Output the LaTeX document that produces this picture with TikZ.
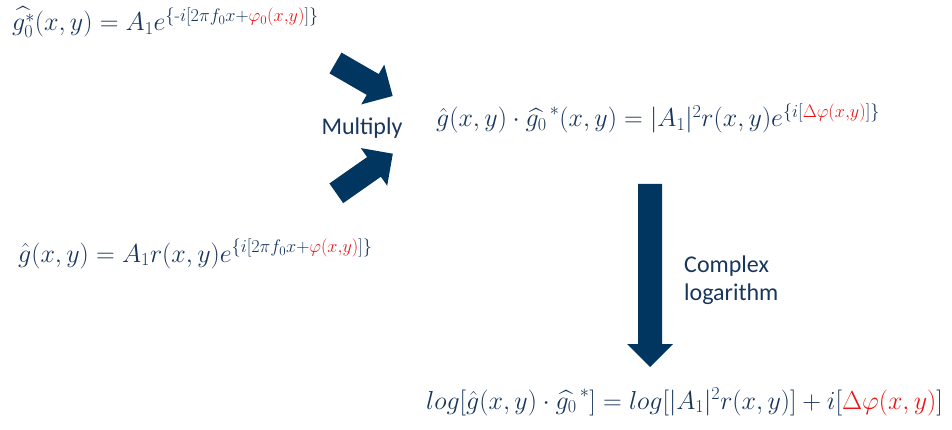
\RequirePackage{fix-cm}
\documentclass[tikz,border=0pt]{standalone}
\usepackage{amsmath}
\usepackage{fontspec}
\setsansfont{Carlito}
\usepackage{tikz}
\usetikzlibrary{positioning}

\definecolor{eqnavy}{RGB}{24,54,92}
\definecolor{arrownavy}{RGB}{0,54,96}
\definecolor{phasered}{RGB}{235,20,20}

\begin{document}
\begin{tikzpicture}[
    x=1pt, y=-1pt,
    eqn/.style={anchor=base west, inner sep=0pt, text=eqnavy, font=\fontsize{26}{30}\selectfont},
    caption/.style={inner sep=0pt, text=eqnavy, align=left, font=\sffamily\fontsize{24}{28}\selectfont},
    pics/blockarrow/.style={code={
        \fill[arrownavy] (0,-12) -- ({#1-23},-12) -- ({#1-23},-23) -- (#1,0)
            -- ({#1-23},23) -- ({#1-23},12) -- (0,12) -- cycle;}}
]
\useasboundingbox (0,0) rectangle (952,430);

% equations
\node[eqn] (conj) at (12,31) {$\widehat{g_0^{*}}(x,y) = A_1 e^{\{\text{-}i[2\pi f_0 x+\textcolor{phasered}{\varphi_0(x,y)}]\}}$};
\node[eqn] (field) at (18,262) {$\hat{g}(x,y) = A_1 r(x,y)e^{\{i[2\pi f_0 x+\textcolor{phasered}{\varphi(x,y)}]\}}$};
\node[eqn] (product) at (436,127) {$\hat{g}(x,y)\cdot\widehat{g_0}^{\,*}(x,y) = |A_1|^2 r(x,y)e^{\{i[\textcolor{phasered}{\Delta\varphi(x,y)}]\}}$};
\node[eqn] (logprod) at (426,409) {$log[\hat{g}(x,y)\cdot\widehat{g_0}^{\,*}] = log[|A_1|^2 r(x,y)] + i[\textcolor{phasered}{\Delta\varphi(x,y)}]$};

% block arrows
\pic[rotate=-30] at (335.5,63) {blockarrow=66};
\pic[rotate=35] at (336.3,193.3) {blockarrow=69};
\pic[rotate=-90] at (650,184) {blockarrow=183};

% labels
\node[caption] (multiply) at (362,128) {Multiply};
\node[caption, anchor=north west] (complexlog) at (684,256) {Complex\\logarithm};

\end{tikzpicture}
\end{document}
